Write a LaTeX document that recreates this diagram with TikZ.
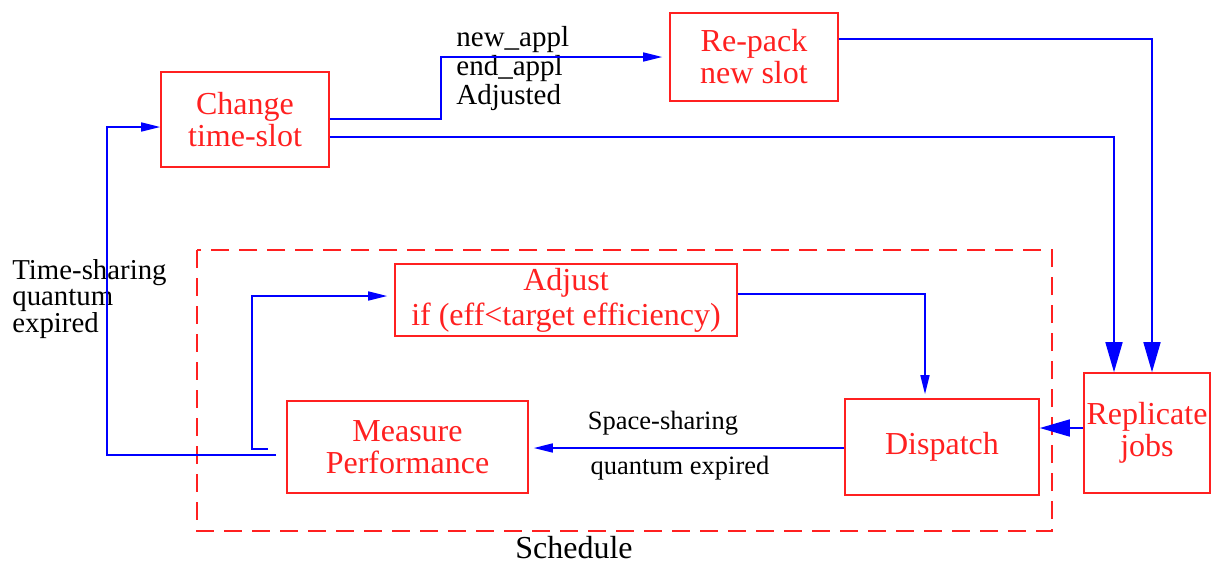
\documentclass[tikz,border=0pt]{standalone}
\usepackage{fontspec}
\setmainfont{Liberation Serif}
\usetikzlibrary{arrows.meta,calc}
\definecolor{boxred}{RGB}{255,32,32}
\definecolor{lineblue}{RGB}{0,0,255}
\tikzset{
  box/.style={draw=boxred, line width=0.8pt, text=boxred, align=center, inner sep=0pt,
    font=\fontsize{16pt}{16pt}\selectfont},
  conn/.style={draw=lineblue, line width=0.8pt},
  bigarrow/.style={conn, -{Triangle[length=15pt,width=8.5pt]}},
  smallarrow/.style={conn, -{Triangle[length=9.5pt,width=4.5pt]}},
  lbl/.style={inner sep=0pt, text=black},
}
\begin{document}
\begin{tikzpicture}[x=0.5pt,y=-0.5pt]
\useasboundingbox (0,0) rectangle (1216,564);
% schedule frame
\draw[boxred, line width=0.8pt, dash pattern=on 9pt off 5pt] (197,250) rectangle (1052,531);
\node[lbl, font=\fontsize{16pt}{16pt}\selectfont] (sched) at (574,548) {Schedule};
% boxes
\node[box, minimum width=84pt, minimum height=47.5pt] (change) at (245,119.5) {Change\\time-slot};
\node[box, minimum width=84pt, minimum height=44pt] (repack) at (754,57) {Re-pack\\new slot};
\node[box, minimum width=63pt, minimum height=60pt] (replicate) at (1147,433) {Replicate\\jobs};
\node[box, minimum width=171pt, minimum height=36pt, font=\fontsize{16pt}{17.5pt}\selectfont] (adjust) at (566,300) {Adjust\\if (eff<target efficiency)};
\node[box, minimum width=120.5pt, minimum height=46pt] (measure) at (407.5,447) {Measure\\Performance};
\node[box, minimum width=97pt, minimum height=48pt] (dispatch) at (942,447) {Dispatch};
% labels
\node[lbl, anchor=west, align=left, font=\fontsize{14.5pt}{14.5pt}\selectfont] (applbl) at (456,69) {new\_appl\\end\_appl\\Adjusted};
\node[lbl, anchor=west, align=left, font=\fontsize{14.4pt}{13.2pt}\selectfont] (tslbl) at (12,299) {Time-sharing\\quantum\\expired};
\node[lbl, font=\fontsize{13.25pt}{13.25pt}\selectfont] (sslbl) at (663,423) {Space-sharing};
\node[lbl, font=\fontsize{13.25pt}{13.25pt}\selectfont] (qelbl) at (680,468) {quantum expired};
% free ends
\coordinate (mstub) at (268,449);
\coordinate (mout) at (276,455);
% connectors
\draw[smallarrow, shorten >=3.5pt] (change.east |- 0,119) -- (441,119) |- (repack.west);
\draw[bigarrow] (change.east |- 0,137) -| ($(replicate.north)+(-33,0)$);
\draw[bigarrow] (repack.east |- 0,39) -| ($(replicate.north)+(5,0)$);
\draw[bigarrow] (replicate.west |- 0,428) -- (dispatch.east |- 0,428);
\draw[smallarrow, shorten >=2pt] (adjust.east |- 0,294) -| ($(dispatch.north)+(-17,0)$);
\draw[smallarrow, shorten >=2.5pt] (dispatch.west |- 0,448) -- (measure.east |- 0,448);
\draw[smallarrow, shorten >=3.5pt] (mstub) -- (252,449) |- (adjust.west |- 0,296);
\draw[smallarrow] (mout) -- (107,455) |- (change.west |- 0,127);
\end{tikzpicture}
\end{document}
